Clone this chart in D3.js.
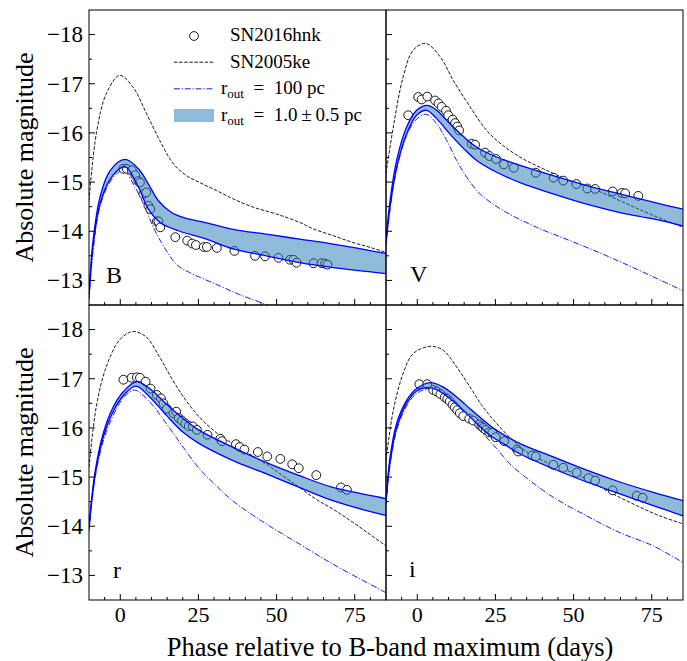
<!DOCTYPE html>
<html><head><meta charset="utf-8">
<script src="https://cdn.jsdelivr.net/npm/d3@7"></script>
<style>body{margin:0;background:#fff}svg{display:block}</style>
</head><body>
<script>
// ---------- data (phase in days, absolute magnitude) ----------
const bands = ["B", "V", "r", "i"];
const xTicks = [0, 25, 50, 75];
const yTicks = [-18, -17, -16, -15, -14, -13];
const legendLabels = ["SN2016hnk", "SN2005ke", "r_out = 100 pc", "r_out = 1.0 ± 0.5 pc"];

const obsB = [[1.0,-15.27],[2.1,-15.27],[3.7,-15.24],[4.8,-15.14],[5.8,-15.02],[6.3,-14.99],[7.4,-14.76],[8.3,-14.79],[9.0,-14.52],[9.6,-14.45],[11.7,-14.20],[12.2,-14.20],[12.8,-14.08],[17.6,-13.88],[21.4,-13.81],[23.0,-13.75],[24.2,-13.72],[26.7,-13.68],[27.7,-13.68],[30.9,-13.66],[36.5,-13.60],[43.1,-13.50],[46.3,-13.49],[50.6,-13.46],[54.3,-13.42],[55.4,-13.42],[56.4,-13.36],[61.8,-13.35],[64.4,-13.35],[65.5,-13.34],[66.3,-13.32]];
const obsV = [[-2.9,-16.36],[0.3,-16.73],[1.4,-16.68],[3.2,-16.74],[5.7,-16.66],[6.8,-16.60],[7.8,-16.53],[9.2,-16.45],[9.9,-16.36],[11.3,-16.27],[12.1,-16.20],[12.8,-16.13],[13.4,-16.05],[17.4,-15.78],[18.5,-15.76],[21.7,-15.60],[23.1,-15.53],[25.2,-15.47],[27.7,-15.36],[30.9,-15.29],[37.9,-15.19],[43.6,-15.09],[46.7,-15.03],[50.9,-14.96],[54.4,-14.87],[56.9,-14.86],[62.5,-14.81],[65.4,-14.78],[66.5,-14.77],[70.7,-14.72]];
const obsR = [[1.0,-16.98],[3.6,-17.02],[5.3,-17.03],[6.3,-17.02],[8.1,-16.94],[9.7,-16.80],[11.7,-16.67],[13.0,-16.60],[13.8,-16.50],[14.9,-16.39],[17.0,-16.30],[17.9,-16.33],[18.7,-16.20],[19.7,-16.15],[20.8,-16.09],[21.9,-16.04],[23.2,-16.03],[24.5,-15.96],[27.9,-15.86],[32.0,-15.78],[32.5,-15.73],[37.0,-15.67],[38.2,-15.61],[39.7,-15.56],[44.0,-15.51],[47.0,-15.42],[51.2,-15.37],[55.0,-15.26],[57.1,-15.18],[62.7,-15.04],[70.6,-14.79],[72.5,-14.74]];
const obsI = [[0.65,-16.89],[3.2,-16.89],[5.1,-16.77],[6.2,-16.74],[7.4,-16.69],[8.8,-16.62],[9.6,-16.59],[10.4,-16.54],[11.3,-16.47],[12.0,-16.42],[12.8,-16.36],[13.6,-16.30],[14.7,-16.24],[16.6,-16.19],[17.9,-16.15],[19.8,-16.07],[20.5,-16.03],[21.1,-16.00],[21.9,-15.96],[23.0,-15.91],[24.0,-15.90],[25.1,-15.81],[27.8,-15.73],[31.9,-15.56],[32.3,-15.52],[36.8,-15.44],[37.9,-15.42],[43.5,-15.25],[46.7,-15.19],[51.0,-15.09],[54.8,-14.98],[56.9,-14.93],[62.5,-14.73],[70.2,-14.62],[72.1,-14.58]];

const ke05B = [[-10,-14.62],[-7.65,-15.99],[-4.45,-16.8],[-0.2,-17.17],[4.1,-16.93],[8.35,-16.4],[12.6,-15.85],[16.9,-15.38],[21.2,-15.13],[25.4,-14.99],[30.7,-14.83],[36.1,-14.66],[42.5,-14.49],[50.0,-14.35],[57.4,-14.18],[61.7,-14.05],[68.1,-13.91],[74.5,-13.77],[80.0,-13.67],[85,-13.57]];
const ke05V = [[-10,-15.17],[-7.66,-16.12],[-4.5,-17.14],[-1.34,-17.68],[2.7,-17.82],[7.3,-17.55],[11.5,-17.07],[16.9,-16.53],[22.2,-16.05],[27.5,-15.74],[33.9,-15.47],[40.3,-15.27],[48.8,-15.03],[57.4,-14.83],[65.9,-14.59],[74.4,-14.35],[85,-14.08]];
const ke05R = [[-10,-15.2],[-7.7,-16.42],[-4.5,-17.24],[-0.2,-17.79],[4.0,-17.96],[8.3,-17.85],[12.5,-17.45],[16.8,-16.97],[21.0,-16.56],[25.3,-16.22],[30.6,-15.91],[35.9,-15.68],[41.3,-15.47],[46.6,-15.27],[51.9,-15.03],[57.3,-14.79],[62.6,-14.55],[68.0,-14.35],[74.4,-14.08],[85,-13.6]];
const ke05I = [[-10,-15.34],[-7.66,-16.36],[-4.5,-17.11],[-1.34,-17.51],[4.1,-17.66],[8.3,-17.58],[12.6,-17.24],[16.9,-16.83],[21.1,-16.42],[25.4,-16.09],[30.7,-15.74],[36.0,-15.47],[41.4,-15.3],[46.7,-15.17],[54.2,-14.96],[61.6,-14.69],[70.2,-14.42],[77.6,-14.21],[85,-14.05]];

const r100B = [[-10,-12.6],[-8.7,-13.6],[-6.5,-14.5],[-3.3,-15.0],[-0.6,-15.2],[1.3,-15.23],[4.7,-14.9],[7.9,-14.49],[11.1,-14.01],[14.8,-13.6],[17.9,-13.33],[22.2,-13.16],[30.7,-12.92],[38.2,-12.71],[46.7,-12.51],[55,-12.3]];
const r100V = [[-10,-13.7],[-8.7,-14.45],[-6.6,-15.25],[-3.4,-15.95],[-0.2,-16.28],[2.8,-16.38],[6.2,-16.19],[9.4,-15.85],[12.6,-15.44],[15.8,-15.1],[20.1,-14.76],[27.5,-14.42],[38.2,-14.08],[48.8,-13.81],[59.5,-13.53],[70.1,-13.23],[85,-12.79]];
const r100R = [[-10,-13.9],[-8.15,-14.95],[-5.5,-15.72],[-2.3,-16.25],[0.9,-16.6],[4.5,-16.77],[9.4,-16.53],[14.7,-16.09],[20.1,-15.61],[25.3,-15.17],[30.6,-14.83],[35.9,-14.52],[46.6,-14.05],[57.3,-13.64],[68.0,-13.23],[82.9,-12.72],[85,-12.65]];
const r100I = [[-10,-14.45],[-8.7,-15.25],[-6.6,-15.95],[-3.4,-16.45],[-0.2,-16.7],[3.0,-16.78],[8.3,-16.67],[12.6,-16.46],[16.9,-16.19],[21.1,-15.88],[25.4,-15.58],[29.6,-15.27],[36.0,-14.93],[43.5,-14.59],[54.2,-14.21],[64.8,-13.87],[75.5,-13.6],[85,-13.26]];

const bandUpB = [[-10,-12.72],[-8.7,-13.81],[-6.5,-14.69],[-3.3,-15.23],[1.5,-15.46],[5.8,-15.27],[9.0,-14.96],[12.2,-14.62],[16.4,-14.38],[20.1,-14.28],[27.0,-14.18],[36.1,-14.04],[46.7,-13.94],[57.4,-13.84],[68.1,-13.74],[85,-13.55]];
const bandLoB = [[-10,-12.65],[-8.7,-13.7],[-6.5,-14.55],[-3.3,-15.05],[0.5,-15.3],[2.0,-15.3],[5.8,-14.9],[9.0,-14.45],[12.7,-14.18],[18.6,-14.01],[27.1,-13.85],[36.1,-13.64],[46.7,-13.5],[57.4,-13.36],[68.1,-13.26],[85,-13.14]];
const bandUpV = [[-10,-13.81],[-8.7,-14.62],[-6.6,-15.44],[-3.4,-16.12],[-0.2,-16.46],[3.2,-16.56],[6.2,-16.46],[10.4,-16.19],[14.7,-15.93],[19.0,-15.71],[25.4,-15.51],[32.9,-15.34],[43.5,-15.13],[54.2,-14.93],[64.8,-14.76],[75.5,-14.59],[85,-14.45]];
const bandLoV = [[-10,-13.75],[-8.7,-14.5],[-6.6,-15.3],[-3.4,-15.98],[-0.2,-16.36],[3.0,-16.46],[6.2,-16.29],[10.4,-15.98],[14.7,-15.69],[19.0,-15.44],[25.4,-15.2],[32.9,-14.99],[43.5,-14.76],[54.2,-14.55],[64.8,-14.38],[75.5,-14.25],[85,-14.11]];
const bandUpR = [[-10,-13.98],[-8.15,-15.07],[-5.5,-15.88],[-2.3,-16.42],[0.9,-16.73],[5.2,-16.94],[9.4,-16.8],[14.7,-16.49],[20.1,-16.19],[25.3,-15.95],[35.9,-15.61],[46.6,-15.3],[57.3,-15.03],[68.0,-14.79],[82.9,-14.59],[85,-14.56]];
const bandLoR = [[-10,-13.95],[-8.15,-15.0],[-5.5,-15.8],[-2.3,-16.33],[0.9,-16.65],[5.0,-16.85],[9.4,-16.63],[14.7,-16.26],[20.1,-15.91],[25.3,-15.68],[35.9,-15.34],[46.6,-15.07],[57.3,-14.79],[68.0,-14.52],[82.9,-14.25],[85,-14.22]];
const bandUpI = [[-10,-14.52],[-8.7,-15.4],[-6.6,-16.09],[-3.4,-16.56],[-0.2,-16.8],[4.1,-16.92],[8.3,-16.83],[12.6,-16.63],[16.9,-16.39],[21.1,-16.16],[25.4,-15.95],[32.9,-15.68],[43.5,-15.41],[54.2,-15.14],[64.8,-14.9],[75.5,-14.69],[85,-14.52]];
const bandLoI = [[-10,-14.5],[-8.7,-15.3],[-6.6,-16.0],[-3.4,-16.5],[-0.2,-16.75],[3.0,-16.82],[6.2,-16.78],[10.4,-16.6],[14.7,-16.36],[19.0,-16.09],[23.2,-15.85],[27.5,-15.68],[32.9,-15.47],[43.5,-15.17],[54.2,-14.9],[64.8,-14.66],[75.5,-14.42],[85,-14.21]];

const panelData = {
  B: {obs: obsB, ke: ke05B, r100: r100B, up: bandUpB, lo: bandLoB},
  V: {obs: obsV, ke: ke05V, r100: r100V, up: bandUpV, lo: bandLoV},
  r: {obs: obsR, ke: ke05R, r100: r100R, up: bandUpR, lo: bandLoR},
  i: {obs: obsI, ke: ke05I, r100: r100I, up: bandUpI, lo: bandLoI}
};

// ---------- layout ----------
const W = 687, H = 661;
const mLeft = 89, mTop = 10, pw = 297, ph = 295;
const FONT = "'Liberation Serif', 'Times New Roman', Times, 'DejaVu Serif', serif";
const svg = d3.select("body").append("svg").attr("width", W).attr("height", H)
  .attr("font-family", FONT).style("font-family", FONT);

const x = d3.scaleLinear().domain([-10, 85]).range([0, pw]);
const y = d3.scaleLinear().domain([-18.5, -12.5]).range([0, ph]);

const bandFill = "#1f77b4";
const lineBlue = "#0000ff";

const labelPos = {B: [17, 273], V: [24, 272], r: [24, 273], i: [23, 272]};

bands.forEach((b, k) => {
  const col = k % 2, row = Math.floor(k / 2);
  const ox = mLeft + col * pw, oy = mTop + row * ph;
  const g = svg.append("g").attr("transform", `translate(${ox},${oy})`);
  const cid = "clip" + k;
  g.append("clipPath").attr("id", cid).append("rect").attr("width", pw).attr("height", ph);
  const plot = g.append("g").attr("clip-path", `url(#${cid})`);
  const d = panelData[b];
  const line = d3.line().x(p => x(p[0])).y(p => y(p[1])).curve(d3.curveCatmullRom.alpha(0.5));

  plot.append("path").attr("d", line(d.ke)).attr("fill", "none").attr("stroke", "#000")
    .attr("stroke-width", 0.9).attr("stroke-dasharray", "3.5,1.6");
  plot.append("path").attr("d", line(d.r100)).attr("fill", "none").attr("stroke", lineBlue)
    .attr("stroke-width", 0.9).attr("stroke-dasharray", "6,1.8,1.2,1.8");
  plot.selectAll("circle.obs").data(d.obs).join("circle").attr("class", "obs")
    .attr("cx", p => x(p[0])).attr("cy", p => y(p[1])).attr("r", 4.4)
    .attr("fill", "#fff").attr("stroke", "#000").attr("stroke-width", 0.9);
  const upPath = line(d.up);
  const loPath = line(d.lo.slice().reverse());
  plot.append("path").attr("d", upPath + "L" + loPath.slice(1) + "Z")
    .attr("fill", bandFill).attr("fill-opacity", 0.5).attr("stroke", "none");
  plot.append("path").attr("d", upPath).attr("fill", "none").attr("stroke", lineBlue).attr("stroke-width", 1.3);
  plot.append("path").attr("d", line(d.lo)).attr("fill", "none").attr("stroke", lineBlue).attr("stroke-width", 1.3);

  // frame
  g.append("rect").attr("width", pw).attr("height", ph).attr("fill", "none").attr("stroke", "#000").attr("stroke-width", 1);

  // ticks (inward, left and bottom)
  const xMinor = d3.range(-5, 85, 5).filter(v => !xTicks.includes(v));
  const yMinor = d3.range(-18, -12.5, 0.5).filter(v => !yTicks.includes(v));
  xTicks.forEach(v => g.append("line").attr("x1", x(v)).attr("x2", x(v)).attr("y1", ph).attr("y2", ph - 6).attr("stroke", "#000"));
  xMinor.forEach(v => g.append("line").attr("x1", x(v)).attr("x2", x(v)).attr("y1", ph).attr("y2", ph - 3).attr("stroke", "#000"));
  yTicks.forEach(v => g.append("line").attr("x1", 0).attr("x2", 6).attr("y1", y(v)).attr("y2", y(v)).attr("stroke", "#000"));
  yMinor.forEach(v => g.append("line").attr("x1", 0).attr("x2", 3).attr("y1", y(v)).attr("y2", y(v)).attr("stroke", "#000"));

  if (col === 0) {
    yTicks.forEach(v => g.append("text").attr("x", -6).attr("y", y(v)).attr("dy", "0.34em")
      .attr("text-anchor", "end").attr("font-size", 23).text("\u2212" + Math.abs(v)));
    g.append("text").attr("transform", `translate(${33 - ox},${ph / 2}) rotate(-90)`)
      .attr("text-anchor", "middle").attr("font-size", 26).text("Absolute magnitude");
  }
  if (row === 1) {
    xTicks.forEach(v => g.append("text").attr("x", x(v)).attr("y", ph + 22).attr("text-anchor", "middle")
      .attr("font-size", 22).text(v));
  }
  g.append("text").attr("x", labelPos[b][0]).attr("y", labelPos[b][1]).attr("font-size", 24).text(b);
});

svg.append("text").attr("x", 390).attr("y", 655.5).attr("text-anchor", "middle")
  .attr("font-size", 26.5).text("Phase relative to B-band maximum (days)");

// ---------- legend ----------
const lg = svg.append("g");
const lx0 = 174, lx1 = 214, tx = 230, txMath = 221;
const rowsY = [41, 67.7, 94.3, 121];
lg.append("circle").attr("cx", (lx0 + lx1) / 2).attr("cy", rowsY[0] - 5).attr("r", 4.4)
  .attr("fill", "#fff").attr("stroke", "#000").attr("stroke-width", 0.9);
lg.append("line").attr("x1", lx0).attr("x2", lx1).attr("y1", rowsY[1] - 5.5).attr("y2", rowsY[1] - 5.5)
  .attr("stroke", "#000").attr("stroke-width", 0.9).attr("stroke-dasharray", "3.5,1.6");
lg.append("line").attr("x1", lx0).attr("x2", lx1).attr("y1", rowsY[2] - 5.5).attr("y2", rowsY[2] - 5.5)
  .attr("stroke", lineBlue).attr("stroke-width", 0.9).attr("stroke-dasharray", "6,1.8,1.2,1.8");
lg.append("rect").attr("x", lx0).attr("y", rowsY[3] - 12).attr("width", lx1 - lx0).attr("height", 13)
  .attr("fill", bandFill).attr("fill-opacity", 0.5);

function legendText(i) {
  const lab = legendLabels[i];
  const isMath = lab.startsWith("r_out");
  const t = lg.append("text").attr("x", isMath ? txMath : tx).attr("y", rowsY[i]).attr("font-size", 19);
  if (isMath) {
    t.append("tspan").text("r");
    t.append("tspan").attr("font-size", 13).attr("dy", 4).text("out");
    t.append("tspan").attr("dy", -4).text(lab.slice(5).replace(" = ", "\u2002=\u2002").replace(" ± ", "\u2009\u00b1\u2009"));
  } else {
    t.text(lab);
  }
}
legendLabels.forEach((_, i) => legendText(i));
</script>
</body></html>
